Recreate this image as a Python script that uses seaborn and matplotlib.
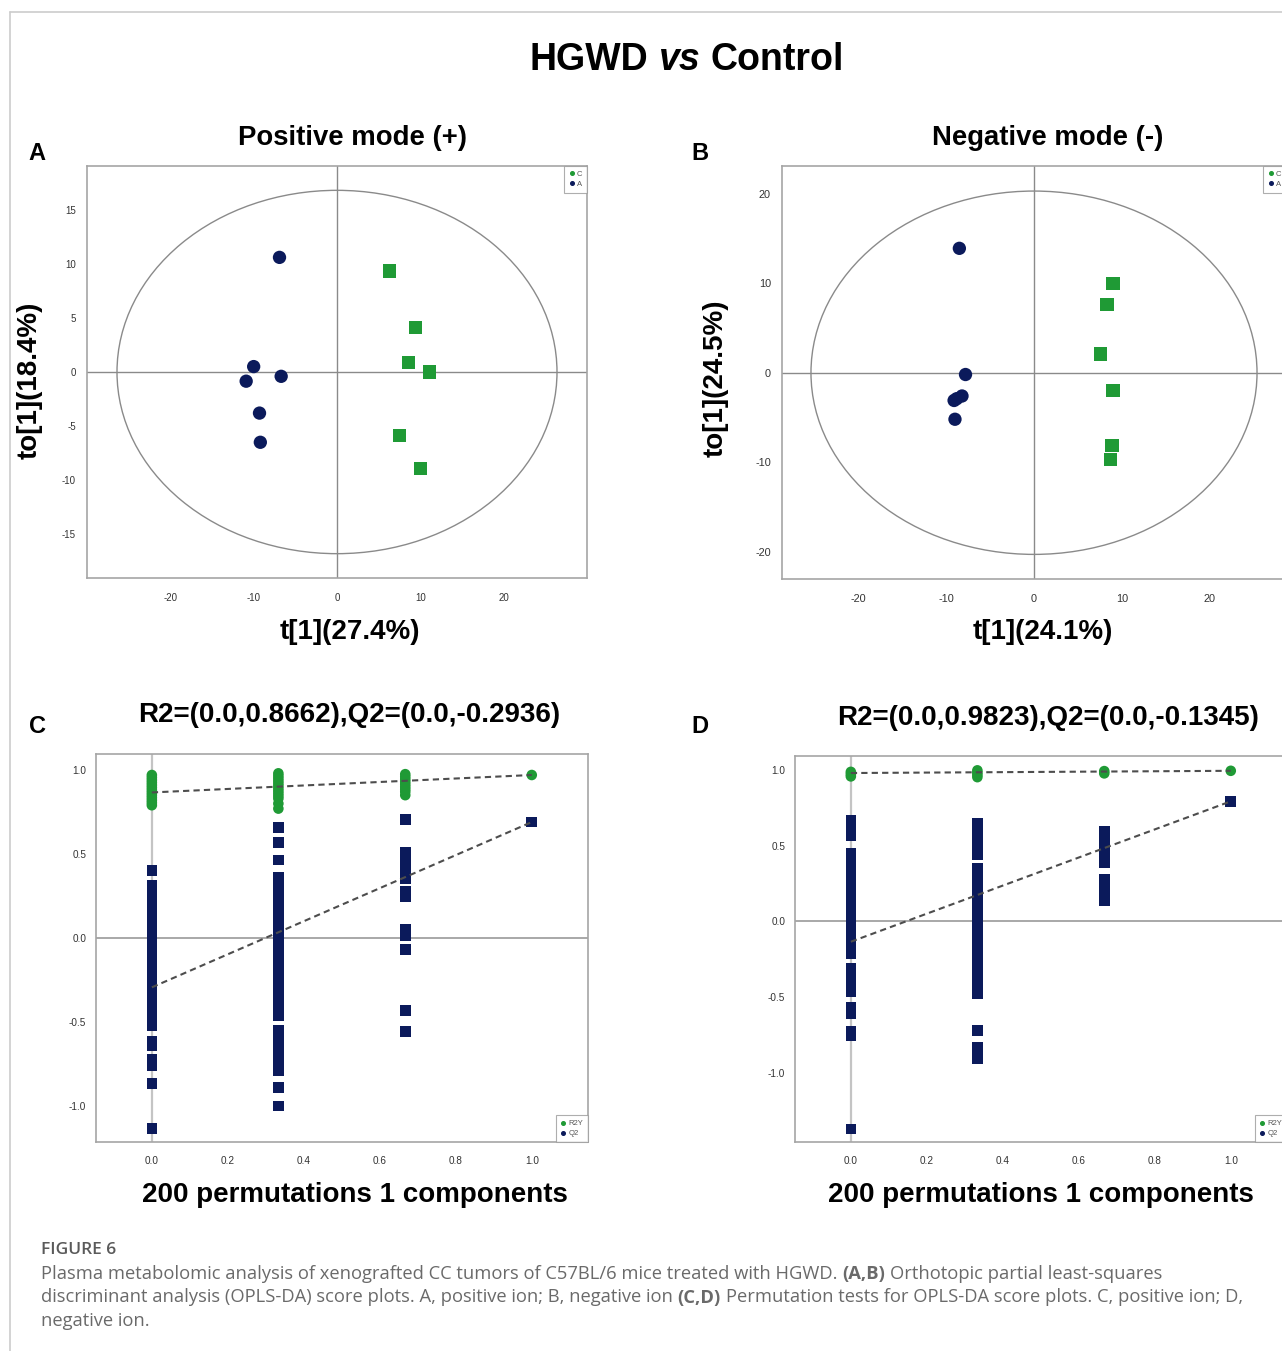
import numpy as np
import pandas as pd
import matplotlib
matplotlib.use("Agg")
import matplotlib.pyplot as plt
import seaborn as sns
from matplotlib.patches import Ellipse
from matplotlib.lines import Line2D

sns.set_style("white")
plt.rcParams['font.family'] = ['Liberation Sans', 'DejaVu Sans']
plt.rcParams['axes.unicode_minus'] = False

W, H = 1282, 1351
navy = '#0b1a5b'
green = '#1f9a35'
line_grey = '#8a8a8a'

# ---- OPLS-DA score plots (t[1] vs to[1]) ----
# positive mode
A_ctrl_t = [6.3, 9.4, 8.6, 11.1, 7.5, 10.0]
A_ctrl_to = [9.35, 4.1, 0.9, 0.0, -5.9, -8.95]
A_hgwd_t = [-6.9, -10.0, -10.9, -6.7, -9.3, -9.2]
A_hgwd_to = [10.6, 0.5, -0.85, -0.4, -3.8, -6.5]
A_ellipse = (26.4, 16.8)

# negative mode
B_ctrl_t = [9.0, 8.3, 7.6, 9.0, 8.9, 8.75]
B_ctrl_to = [10.0, 7.6, 2.1, -2.0, -8.1, -9.7]
B_hgwd_t = [-8.5, -7.8, -8.2, -8.8, -9.1, -9.0]
B_hgwd_to = [13.9, -0.2, -2.6, -2.9, -3.1, -5.2]
B_ellipse = (25.4, 20.3)

# ---- permutation tests (200 permutations) ----
perm_x = [0.0, 0.333, 0.667, 1.0]

C_r2y = [
    [0.97, 0.955, 0.94, 0.925, 0.91, 0.895, 0.88, 0.865, 0.85, 0.835, 0.82, 0.805, 0.79],
    [0.98, 0.965, 0.95, 0.935, 0.92, 0.905, 0.89, 0.875, 0.86, 0.845, 0.83, 0.80, 0.77],
    [0.975, 0.96, 0.945, 0.93, 0.915, 0.90, 0.885, 0.87, 0.85],
    [0.97],
]
C_q2 = [
    [0.40, 0.315, 0.265, 0.215, 0.165, 0.115, 0.065, 0.015, -0.035, -0.085, -0.135,
     -0.185, -0.235, -0.285, -0.335, -0.385, -0.435, -0.485, -0.524, -0.617, -0.643,
     -0.72, -0.76, -0.867, -1.133],
    [0.657, 0.57, 0.464, 0.36, 0.31, 0.26, 0.21, 0.16, 0.11, 0.06, 0.01, -0.04, -0.09,
     -0.14, -0.19, -0.24, -0.29, -0.34, -0.39, -0.44, -0.46, -0.55, -0.60, -0.65, -0.70,
     -0.75, -0.79, -0.89, -1.0],
    [0.706, 0.51, 0.47, 0.435, 0.38, 0.35, 0.28, 0.245, 0.05, 0.015, -0.07, -0.43, -0.555],
    [0.69],
]
C_r2_int, C_q2_int = 0.8662, -0.2936

D_r2y = [
    [0.99, 0.975, 0.96],
    [1.0, 0.985, 0.97, 0.955],
    [0.995, 0.98],
    [0.997],
]
D_q2 = [
    [0.67, 0.62, 0.57, 0.448, 0.40, 0.35, 0.30, 0.25, 0.20, 0.15, 0.10, 0.05, 0.0, -0.05,
     -0.10, -0.15, -0.214, -0.307, -0.36, -0.41, -0.462, -0.571, -0.611, -0.726, -0.755,
     -1.373],
    [0.651, 0.60, 0.55, 0.50, 0.444, 0.353, 0.30, 0.25, 0.20, 0.15, 0.10, 0.05, 0.0, -0.05,
     -0.10, -0.15, -0.20, -0.25, -0.30, -0.35, -0.40, -0.44, -0.479, -0.722, -0.836,
     -0.87, -0.909],
    [0.594, 0.572, 0.506, 0.46, 0.42, 0.387, 0.277, 0.23, 0.185, 0.139],
    [0.795],
]
D_r2_int, D_q2_int = 0.9823, -0.1345


fig = plt.figure(figsize=(W / 100, H / 100), dpi=100)


def add_ax(l, t, r, b):
    return fig.add_axes([l / W, 1 - b / H, (r - l) / W, (b - t) / H])


def ftext(x, y, s, **kw):
    return fig.text(x / W, 1 - y / H, s, **kw)


def style_ax(ax, lsize, xpad, ypad):
    for sp in ax.spines.values():
        sp.set_color('#a5a5a5')
        sp.set_linewidth(1.2)
    ax.tick_params(direction='in', length=3, width=0.8, color='#999999',
                   labelsize=lsize, labelcolor='#333333')
    ax.tick_params(axis='x', pad=xpad)
    ax.tick_params(axis='y', pad=ypad)
    ax.set_xlabel('')
    ax.set_ylabel('')


def small_legend(ax, labels, colors, loc):
    handles = [Line2D([], [], marker='o', ls='', color=c, ms=2.6, label=l)
               for l, c in zip(labels, colors)]
    leg = ax.legend(handles=handles, loc=loc, fontsize=5.5, frameon=True,
                    fancybox=False, borderaxespad=0, handletextpad=0.3,
                    handlelength=0.8, borderpad=0.6, labelspacing=0.35)
    leg.get_frame().set_edgecolor('#9a9a9a')
    leg.get_frame().set_linewidth(0.8)
    for t in leg.get_texts():
        t.set_color('#555555')


def score_panel(ax, ct, cto, ht, hto, ell, xlim, ylim, yticks, lsize):
    df = pd.DataFrame({
        't1': ct + ht,
        'to1': cto + hto,
        'group': ['C'] * len(ct) + ['A'] * len(ht),
    })
    ax.add_patch(Ellipse((0, 0), 2 * ell[0], 2 * ell[1], fill=False,
                         ec=line_grey, lw=1.0, zorder=1))
    ax.axhline(0, color=line_grey, lw=1.0, zorder=1)
    ax.axvline(0, color=line_grey, lw=1.0, zorder=1)
    sns.scatterplot(data=df, x='t1', y='to1', hue='group', style='group',
                    palette={'C': green, 'A': navy}, markers={'C': 's', 'A': 'o'},
                    s=92, edgecolor='none', legend=False, ax=ax, zorder=3)
    ax.set_xlim(xlim)
    ax.set_ylim(ylim)
    ax.set_xticks([-20, -10, 0, 10, 20])
    ax.set_yticks(yticks)
    style_ax(ax, lsize, 10.5, 8)
    small_legend(ax, ['C', 'A'], [green, navy], 'upper right')


def perm_panel(ax, r2_cols, q2_cols, r2_int, q2_int, ylim):
    rows = []
    for xv, col in zip(perm_x, q2_cols):
        rows += [(xv, v, 'Q2') for v in col]
    for xv, col in zip(perm_x, r2_cols):
        rows += [(xv, v, 'R2Y') for v in col]
    df = pd.DataFrame(rows, columns=['corr', 'value', 'stat'])
    ax.axhline(0, color='#9a9a9a', lw=1.2, zorder=1)
    ax.axvline(0, color='#c4c4c4', lw=1.6, zorder=1)
    sns.scatterplot(data=df, x='corr', y='value', hue='stat', style='stat',
                    palette={'R2Y': green, 'Q2': navy}, markers={'R2Y': 'o', 'Q2': 's'},
                    s=58, edgecolor='none', legend=False, ax=ax, zorder=3)
    ax.plot([0, perm_x[-1]], [r2_int, r2_cols[-1][0]], ls=(0, (3, 2)),
            color='#4d4d4d', lw=1.5, zorder=4)
    ax.plot([0, perm_x[-1]], [q2_int, q2_cols[-1][0]], ls=(0, (3, 2)),
            color='#4d4d4d', lw=1.5, zorder=4)
    ax.set_xlim(-0.147, 1.148)
    ax.set_ylim(ylim)
    ax.set_xticks([0.0, 0.2, 0.4, 0.6, 0.8, 1.0])
    ax.set_yticks([-1.0, -0.5, 0.0, 0.5, 1.0])
    ax.xaxis.set_major_formatter(plt.FormatStrFormatter('%.1f'))
    ax.yaxis.set_major_formatter(plt.FormatStrFormatter('%.1f'))
    style_ax(ax, 7.2, 10, 7)
    small_legend(ax, ['R2Y', 'Q2'], [green, navy], 'lower right')


axA = add_ax(87, 166, 587, 578)
score_panel(axA, A_ctrl_t, A_ctrl_to, A_hgwd_t, A_hgwd_to, A_ellipse,
            (-30, 30), (-19.05, 19.05), [-15, -10, -5, 0, 5, 10, 15], 7.0)

axB = add_ax(782, 166, 1286, 579)
score_panel(axB, B_ctrl_t, B_ctrl_to, B_hgwd_t, B_hgwd_to, B_ellipse,
            (-28.7, 28.7), (-23.05, 23.1), [-20, -10, 0, 10, 20], 7.8)

axC = add_ax(96, 754, 588, 1142)
perm_panel(axC, C_r2y, C_q2, C_r2_int, C_q2_int, (-1.214, 1.095))

axD = add_ax(795, 756, 1287, 1142)
perm_panel(axD, D_r2y, D_q2, D_r2_int, D_q2_int, (-1.46, 1.095))

# ---- text ----
bold = dict(fontweight='bold', color='black', ha='center', va='center')
ftext(353, 138, 'Positive mode (+)', fontsize=19.8, **bold)
ftext(1048, 138, 'Negative mode (-)', fontsize=19.8, **bold)
ftext(350, 632, 't[1](27.4%)', fontsize=20, **bold)
ftext(1043, 632, 't[1](24.1%)', fontsize=20, **bold)
ftext(30, 380, 'to[1](18.4%)', fontsize=20, rotation=90, **bold)
ftext(716, 378, 'to[1](24.5%)', fontsize=20, rotation=90, **bold)
ftext(349, 715, 'R2=(0.0,0.8662),Q2=(0.0,-0.2936)', fontsize=20, **bold)
ftext(1048, 718, 'R2=(0.0,0.9823),Q2=(0.0,-0.1345)', fontsize=20, **bold)
ftext(355, 1195, '200 permutations 1 components', fontsize=20, **bold)
ftext(1041, 1195, '200 permutations 1 components', fontsize=20, **bold)

for letter, (x, y) in zip('ABCD', [(37, 153), (700, 153), (37, 727), (700, 727)]):
    ftext(x, y, letter, fontsize=17, **bold)

renderer = fig.canvas.get_renderer()


def runs_text(x, y, runs, size, color, family, center=False):
    arts = []
    for s, kw in runs:
        t = ftext(0, y, s, fontsize=size, color=color, family=family,
                  ha='left', va='center', **kw)
        arts.append(t)
    sp = ftext(0, y, 'x x', fontsize=size, family=family)
    sp2 = ftext(0, y, 'xx', fontsize=size, family=family)
    space = sp.get_window_extent(renderer).width - sp2.get_window_extent(renderer).width
    sp.remove()
    sp2.remove()
    widths = [a.get_window_extent(renderer).width for a in arts]
    total = sum(widths) + space * (len(arts) - 1)
    cur = x - total / 2 if center else x
    for a, w in zip(arts, widths):
        a.set_x(cur / W)
        cur += w + space


runs_text(687, 60, [('HGWD', dict(fontweight='bold')),
                    ('vs', dict(fontweight='bold', style='italic')),
                    ('Control', dict(fontweight='bold'))],
          27, 'black', ['Liberation Sans'], center=True)

cap_family = ['Open Sans', 'DejaVu Sans']
cap_col = '#6a6a6a'
ftext(41, 1250, 'FIGURE 6', fontsize=12.5, color='#5a5a5a', family=cap_family,
      fontweight='semibold', ha='left', va='center')
nrm, bld = dict(), dict(fontweight='bold')
cap_lines = [
    [('Plasma metabolomic analysis of xenografted CC tumors of C57BL/6 mice treated with HGWD.', nrm),
     ('(A,B)', bld), ('Orthotopic partial least-squares', nrm)],
    [('discriminant analysis (OPLS-DA) score plots. A, positive ion; B, negative ion', nrm),
     ('(C,D)', bld), ('Permutation tests for OPLS-DA score plots. C, positive ion; D,', nrm)],
    [('negative ion.', nrm)],
]
for i, line in enumerate(cap_lines):
    runs_text(41, 1274 + 23.5 * i, line, 13.2, cap_col, cap_family)

# page frame
fig.add_artist(Line2D([10 / W, 1], [1 - 12 / H, 1 - 12 / H], transform=fig.transFigure,
                      color='#cccccc', lw=1.2))
fig.add_artist(Line2D([10 / W, 10 / W], [0, 1 - 12 / H], transform=fig.transFigure,
                      color='#cccccc', lw=1.2))

fig.savefig('out.png', dpi=100)
